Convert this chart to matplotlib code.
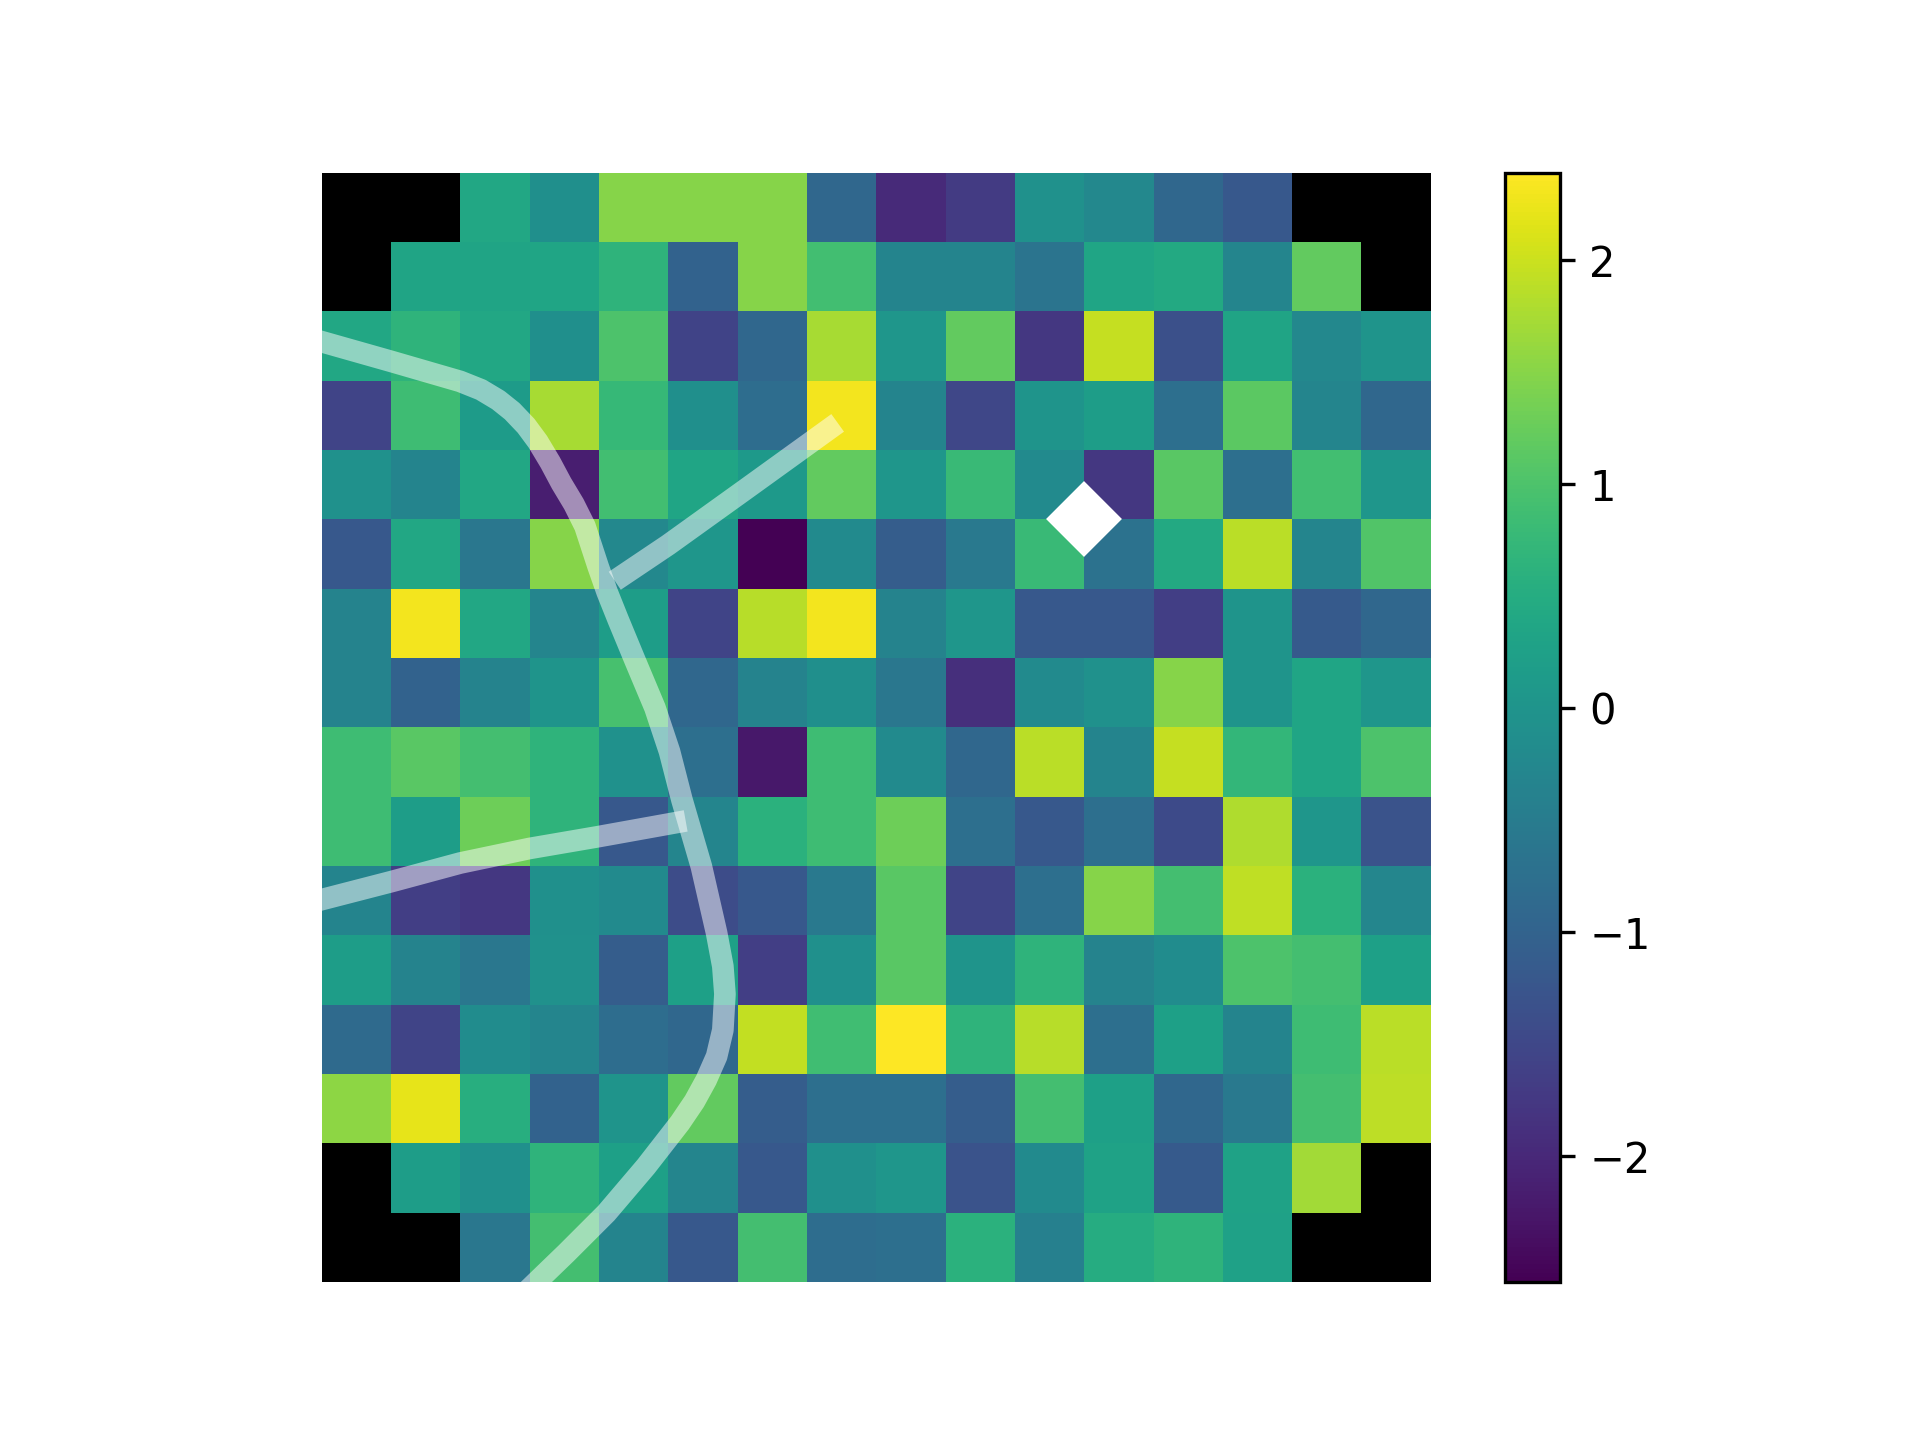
import numpy as np
import matplotlib
matplotlib.use("Agg")
import matplotlib.pyplot as plt

nan = np.nan

# 16x16 grid values (NaN = masked corners, drawn black)
row00 = [nan, nan, 0.4, -0.1, 1.5, 1.5, 1.5, -0.9, -1.97, -1.7, -0.05, -0.25, -0.9, -1.2, nan, nan]
row01 = [nan, 0.33, 0.33, 0.35, 0.65, -1.0, 1.5, 0.9, -0.33, -0.33, -0.65, 0.35, 0.45, -0.3, 1.2, nan]
row02 = [0.4, 0.65, 0.4, -0.1, 1.0, -1.57, -0.9, 1.75, 0.05, 1.2, -1.75, 1.95, -1.35, 0.33, -0.25, 0.0]
row03 = [-1.55, 0.85, 0.15, 1.75, 0.75, -0.1, -0.8, 2.3, -0.33, -1.5, 0.0, 0.2, -0.75, 1.15, -0.3, -0.9]
row04 = [-0.05, -0.33, 0.4, -2.15, 0.9, 0.35, 0.1, 1.2, 0.05, 0.8, -0.2, -1.75, 1.12, -0.75, 0.9, 0.05]
row05 = [-1.2, 0.4, -0.6, 1.5, -0.25, 0.05, -2.56, -0.2, -1.1, -0.55, 0.8, -0.7, 0.45, 1.87, -0.3, 1.05]
row06 = [-0.35, 2.3, 0.4, -0.3, 0.2, -1.55, 1.85, 2.3, -0.35, 0.05, -1.2, -1.2, -1.65, 0.0, -1.15, -0.9]
row07 = [-0.35, -1.0, -0.35, 0.0, 0.95, -0.9, -0.35, -0.1, -0.6, -1.9, -0.2, -0.05, 1.5, 0.0, 0.35, 0.05]
row08 = [0.85, 1.12, 0.92, 0.65, -0.05, -0.75, -2.25, 0.85, -0.2, -0.9, 1.88, -0.33, 1.95, 0.72, 0.35, 1.0]
row09 = [0.85, 0.2, 1.3, 0.65, -1.2, -0.3, 0.6, 0.85, 1.3, -0.75, -1.2, -0.75, -1.45, 1.8, 0.05, -1.3]
row10 = [-0.33, -1.65, -1.75, -0.08, -0.2, -1.4, -1.2, -0.55, 1.12, -1.55, -0.75, 1.5, 0.92, 1.92, 0.6, -0.28]
row11 = [0.2, -0.35, -0.6, -0.05, -1.1, 0.25, -1.65, -0.08, 1.12, 0.0, 0.65, -0.35, -0.15, 1.0, 0.92, 0.25]
row12 = [-0.85, -1.55, -0.15, -0.3, -0.8, -0.9, 1.93, 0.88, 2.39, 0.65, 1.85, -0.75, 0.25, -0.33, 0.85, 1.88]
row13 = [1.55, 2.2, 0.55, -1.0, 0.0, 1.2, -1.1, -0.75, -0.75, -1.1, 0.92, 0.25, -0.9, -0.55, 0.92, 1.9]
row14 = [nan, 0.2, -0.08, 0.65, 0.25, -0.3, -1.2, -0.08, 0.05, -1.3, -0.2, 0.3, -1.15, 0.3, 1.7, nan]
row15 = [nan, nan, -0.6, 0.92, -0.33, -1.2, 0.92, -0.8, -0.75, 0.6, -0.4, 0.5, 0.65, 0.28, nan, nan]

grid = np.array([row00, row01, row02, row03, row04, row05, row06, row07,
                 row08, row09, row10, row11, row12, row13, row14, row15])

# ridge paths (data coords, x = column, y = row)
main_x = [-0.7, 0.5, 1.5, 1.8, 2.05, 2.25, 2.45, 2.62, 2.8, 2.96, 3.14, 3.3, 3.49, 3.62, 3.78, 4.02, 4.31,
          4.52, 4.70, 4.98, 5.20, 5.29, 5.32, 5.29, 5.2, 5.05, 4.88, 4.67, 4.18, 3.61, 3.03, 2.45]
main_y = [1.88, 2.22, 2.51, 2.63, 2.78, 2.94, 3.15, 3.38, 3.68, 3.98, 4.28, 4.60, 5.18, 5.55, 5.95, 6.53, 7.22,
          7.85, 8.55, 9.51, 10.47, 10.95, 11.35, 11.87, 12.25, 12.59, 12.9, 13.21, 13.84, 14.51, 15.09, 15.65]
branch1_x = [3.86, 4.5, 5.6, 6.82]
branch1_y = [5.3, 4.87, 4.08, 3.2]
branch2_x = [-0.7, 0.5, 1.5, 2.5, 3.49, 4.6]
branch2_y = [10.04, 9.73, 9.46, 9.25, 9.08, 8.88]

# diamond marker
point_x = [10.5]
point_y = [4.5]

cmap = plt.get_cmap("viridis").copy()
cmap.set_bad("black")

fig, ax = plt.subplots(figsize=(6.4, 4.8), dpi=300)
im = ax.imshow(grid, cmap=cmap)

# semi-transparent white lines
for xs, ys in [(main_x, main_y), (branch1_x, branch1_y), (branch2_x, branch2_y)]:
    ax.plot(xs, ys, color="white", alpha=0.5, lw=5.2)

ax.plot(point_x, point_y, "D", color="white", ms=12)

ax.set_xlim(-0.5, 15.5)
ax.set_ylim(15.5, -0.5)
ax.axis("off")

plt.colorbar(im, ax=ax)

fig.savefig("out.png")
